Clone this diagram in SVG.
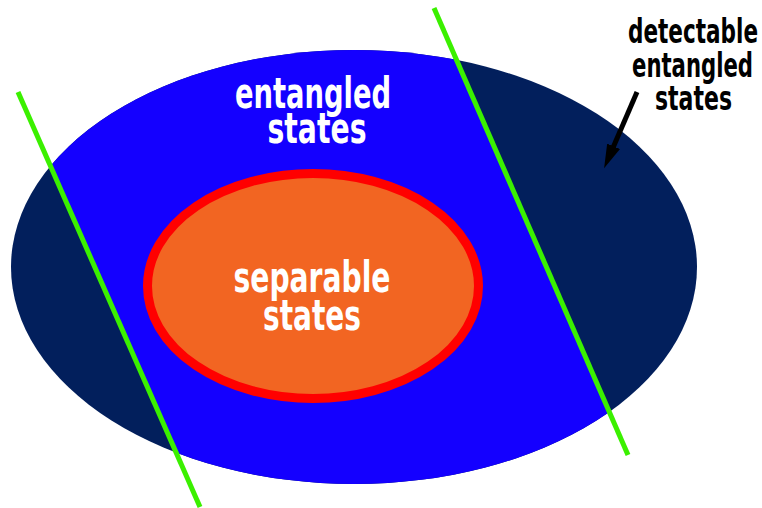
<svg xmlns="http://www.w3.org/2000/svg" width="762" height="508" viewBox="0 0 762 508">
<style>
.w{fill:#fff;font-family:"DejaVu Sans Condensed","DejaVu Sans",sans-serif;font-weight:bold;text-anchor:middle}
.k{fill:#000;font-family:"DejaVu Sans Condensed","DejaVu Sans",sans-serif;font-weight:bold;text-anchor:middle}
.g{stroke:#3BF000;stroke-width:5;fill:none}
</style>
<defs>
<clipPath id="ell"><ellipse cx="354" cy="267" rx="343" ry="217"/></clipPath>
<marker id="ah" markerUnits="userSpaceOnUse" viewBox="0 0 24 14" markerWidth="24" markerHeight="14" refX="4" refY="7" orient="auto">
<path d="M0,0 L24,7 L0,14 z" fill="#000"/>
</marker>
</defs>
<g id="entangled">
<ellipse cx="354" cy="267" rx="343" ry="217" fill="#021F5C"/>
<polygon points="-22,0 430.5,0 652,508 199.4,508" fill="#1400FF" clip-path="url(#ell)"/>
<text class="w" font-size="42" x="313" y="108" textLength="156" lengthAdjust="spacingAndGlyphs">entangled</text>
<text class="w" font-size="42" x="317" y="143" textLength="99" lengthAdjust="spacingAndGlyphs">states</text>
</g>
<g id="separable">
<ellipse cx="313" cy="286" rx="165.5" ry="112.5" fill="#F26522" stroke="#FF0000" stroke-width="9"/>
<text class="w" font-size="42" x="312" y="292" textLength="157" lengthAdjust="spacingAndGlyphs">separable</text>
<text class="w" font-size="42" x="312" y="330" textLength="98" lengthAdjust="spacingAndGlyphs">states</text>
</g>
<g id="witnesses">
<line class="g" x1="18" y1="92" x2="200" y2="507"/>
<line class="g" x1="434" y1="8" x2="628" y2="455"/>
</g>
<g id="detectable">
<text class="k" font-size="34" x="693" y="43" textLength="130" lengthAdjust="spacingAndGlyphs">detectable</text>
<text class="k" font-size="34" x="692.5" y="77" textLength="121" lengthAdjust="spacingAndGlyphs">entangled</text>
<text class="k" font-size="34" x="693.5" y="110" textLength="77" lengthAdjust="spacingAndGlyphs">states</text>
</g>
<g id="connectors">
<line x1="637" y1="92" x2="612" y2="150" stroke="#000" stroke-width="5" marker-end="url(#ah)"/>
</g>
</svg>
